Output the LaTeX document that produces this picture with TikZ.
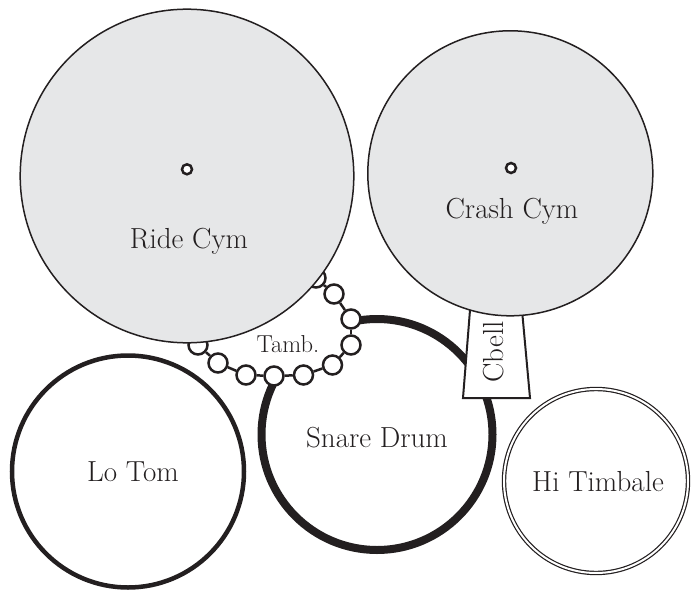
\documentclass[tikz,border=0pt]{standalone}
\definecolor{ink}{HTML}{231F20}
\definecolor{cymgray}{HTML}{E6E7E8}
\begin{document}
\begin{tikzpicture}[x=1pt,y=-1pt,
  lbl/.style={text=ink, font=\fontsize{29}{33}\selectfont, inner sep=0pt},
  smalllbl/.style={text=ink, font=\fontsize{24.5}{28}\selectfont, inner sep=0pt},
  cymbal/.style={circle, draw=ink, fill=cymgray, line width=1.5pt, inner sep=0pt},
  drum/.style={circle, draw=ink, fill=white, inner sep=0pt},
  bead/.style={circle, draw=ink, fill=white, line width=2.5pt, inner sep=0pt, minimum size=19pt},
  chain/.style={draw=ink, line width=2.5pt},
  tambskin/.style={fill=white, draw=none},
  hole/.style={circle, draw=ink, fill=white, line width=2.5pt, inner sep=0pt, minimum size=10pt},
  bellbox/.style={draw=ink, fill=white, line width=2pt, line join=miter}
]
\useasboundingbox (0,0) rectangle (691,591);
% drums
\node[drum, line width=8pt, minimum size=231pt] (snare) at (377,434.5) {};
\node[drum, line width=4.5pt, minimum size=232pt] (lotom) at (128,471.5) {};
\node[drum, draw=ink, double=white, double distance=2pt, line width=1.2pt, minimum size=184pt] (timbale) at (596,481) {};
% tambourine
\foreach \i/\x/\y in {1/198/345, 2/218/363, 3/246/375, 4/274/376, 5/303.5/375, 6/332.5/365, 7/351/345, 8/351/319, 9/334/294, 10/316/278}
  \coordinate (c\i) at (\x,\y);
\fill[tambskin] (c1) -- (c2) -- (c3) -- (c4) -- (c5) -- (c6) -- (c7) -- (c8) -- (c9) -- (c10) -- (270,260) -- (215,320) -- cycle;
\foreach \i in {1,...,10}
  \node[bead] (b\i) at (c\i) {};
\foreach \i [evaluate=\i as \j using int(\i+1)] in {1,...,9}
  \draw[chain] (b\i) -- (b\j);
% ride cymbal
\node[cymbal, minimum size=333.6pt] (ride) at (187,176) {};
\node[hole] (ridehole) at (187,169.3) {};
% cowbell
\draw[bellbox] (470.8,300) -- (521.1,300) -- (530,398) -- (463,398) -- cycle;
% crash cymbal
\node[cymbal, minimum size=285pt] (crash) at (510.3,173.3) {};
\node[hole] (crashhole) at (511,168) {};
% labels
\node[lbl] (lride) at (189,241) {Ride Cym};
\node[lbl] (lcrash) at (512,211) {Crash Cym};
\node[lbl] (llotom) at (133,472) {Lo Tom};
\node[lbl] (lsnare) at (377,438) {Snare Drum};
\node[lbl] (ltimbale) at (598,482) {Hi Timbale};
\node[smalllbl] (ltamb) at (288,344) {Tamb.};
\node[lbl, rotate=90] (lbell) at (494,352) {Cbell};
\end{tikzpicture}
\end{document}
